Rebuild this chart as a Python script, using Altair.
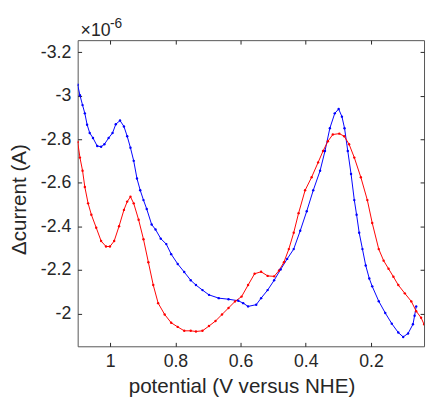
import altair as alt
import pandas as pd

# ---- data (current in units of 1e-6 A) ----
blue_x = [1.100, 1.093, 1.085, 1.078, 1.071, 1.063, 1.053, 1.040, 1.028, 1.018,
          1.005, 0.993, 0.983, 0.970, 0.958, 0.948, 0.938, 0.928, 0.918, 0.908,
          0.898, 0.888, 0.873, 0.861, 0.845, 0.828, 0.813, 0.793, 0.773, 0.753,
          0.737, 0.717, 0.697, 0.667, 0.637, 0.607, 0.592, 0.577, 0.552, 0.537,
          0.517, 0.497, 0.477, 0.457, 0.437, 0.417, 0.397, 0.377, 0.356, 0.341,
          0.326, 0.311, 0.299, 0.289, 0.281, 0.271, 0.261, 0.251, 0.244, 0.236,
          0.226, 0.216, 0.205, 0.196, 0.176, 0.156, 0.136, 0.116, 0.101, 0.086,
          0.071, 0.066, 0.061]
blue_y = [-3.050, -3.002, -2.957, -2.919, -2.867, -2.829, -2.806, -2.769, -2.766, -2.777,
          -2.806, -2.829, -2.869, -2.886, -2.859, -2.814, -2.761, -2.701, -2.620, -2.566,
          -2.521, -2.480, -2.409, -2.386, -2.344, -2.319, -2.273, -2.228, -2.191, -2.153,
          -2.131, -2.108, -2.086, -2.071, -2.066, -2.059, -2.048, -2.033, -2.041, -2.071,
          -2.108, -2.153, -2.203, -2.251, -2.296, -2.380, -2.470, -2.566, -2.656, -2.746,
          -2.851, -2.919, -2.939, -2.904, -2.851, -2.746, -2.641, -2.521, -2.454, -2.371,
          -2.296, -2.221, -2.161, -2.125, -2.057, -2.003, -1.954, -1.913, -1.893, -1.909,
          -1.951, -1.990, -2.033]

red_x = [1.100, 1.093, 1.085, 1.078, 1.068, 1.058, 1.043, 1.028, 1.013, 1.001,
         0.988, 0.973, 0.958, 0.948, 0.938, 0.928, 0.913, 0.898, 0.883, 0.868,
         0.853, 0.833, 0.813, 0.793, 0.773, 0.753, 0.737, 0.717, 0.697, 0.677,
         0.657, 0.637, 0.617, 0.597, 0.577, 0.557, 0.537, 0.517, 0.497, 0.482,
         0.467, 0.452, 0.437, 0.422, 0.402, 0.382, 0.362, 0.347, 0.332, 0.317,
         0.297, 0.282, 0.267, 0.251, 0.231, 0.211, 0.196, 0.176, 0.161, 0.146,
         0.131, 0.116, 0.096, 0.076, 0.061, 0.046, 0.037]
red_y = [-2.788, -2.716, -2.656, -2.581, -2.506, -2.454, -2.394, -2.333, -2.308, -2.308,
         -2.333, -2.401, -2.476, -2.514, -2.536, -2.506, -2.431, -2.341, -2.236, -2.131,
         -2.048, -1.996, -1.958, -1.939, -1.921, -1.921, -1.918, -1.921, -1.943, -1.966,
         -1.996, -2.026, -2.056, -2.078, -2.131, -2.183, -2.192, -2.173, -2.171, -2.198,
         -2.236, -2.296, -2.371, -2.461, -2.566, -2.626, -2.694, -2.746, -2.791, -2.822,
         -2.826, -2.814, -2.777, -2.716, -2.626, -2.521, -2.416, -2.296, -2.243, -2.206,
         -2.169, -2.131, -2.093, -2.056, -2.011, -1.981, -1.951]

series_names = ["blue", "red"]
series_colors = ["#0000ff", "#ff0000"]
x_ticks = [1, 0.8, 0.6, 0.4, 0.2]
y_ticks = [-3.2, -3, -2.8, -2.6, -2.4, -2.2, -2]
x_domain = [0.037, 1.1]
y_domain = [-3.255, -1.85]
x_title = "potential (V versus NHE)"
y_title = "\u0394current (A)"
exp_base = "\u00d710"
exp_power = "-6"

rows = []
for name, xs, ys in [("blue", blue_x, blue_y), ("red", red_x, red_y)]:
    for i, (xv, yv) in enumerate(zip(xs, ys)):
        rows.append({"series": name, "i": i, "v": xv, "c": yv})
df = pd.DataFrame(rows)

FONT = "Liberation Sans"
INK = "#262626"

xscale = alt.Scale(domain=x_domain, reverse=True, nice=False, zero=False)
yscale = alt.Scale(domain=y_domain, reverse=True, nice=False, zero=False)

common = dict(offset=-4, domain=False, tickSize=4, tickColor=INK, tickWidth=1,
              grid=False, labelFont=FONT, labelFontSize=18, labelColor=INK,
              labelPadding=7, titleFont=FONT, titleFontSize=21, titleColor=INK,
              titleFontWeight="normal")

x_axis = alt.Axis(orient="bottom", values=x_ticks, labelExpr="'' + datum.value",
                  title=x_title, titleX=167, titleY=51, titleAlign="center",
                  titleBaseline="alphabetic", **common)
y_axis = alt.Axis(orient="left", values=y_ticks, labelExpr="'' + datum.value",
                  title=y_title, titleX=-63, titleY=162, titleAlign="center",
                  titleBaseline="middle", titleAngle=270, **common)

lines = alt.Chart(df).mark_line(
    strokeWidth=1, clip=True,
    point=alt.OverlayMarkDef(size=6, filled=True, clip=True, opacity=1),
).encode(
    x=alt.X("v:Q", scale=xscale, axis=x_axis),
    y=alt.Y("c:Q", scale=yscale, axis=y_axis),
    color=alt.Color("series:N", scale=alt.Scale(domain=series_names, range=series_colors), legend=None),
    order="i:Q",
)

mirror = alt.Chart(df).mark_point(opacity=0).encode(
    x=alt.X("v:Q", scale=xscale,
            axis=alt.Axis(orient="top", values=x_ticks, labels=False, title=None,
                          offset=-4, domain=False, tickSize=4, tickColor=INK, grid=False)),
    y=alt.Y("c:Q", scale=yscale,
            axis=alt.Axis(orient="right", values=y_ticks, labels=False, title=None,
                          offset=-4, domain=False, tickSize=4, tickColor=INK, grid=False)),
)

t1 = alt.Chart(pd.DataFrame({"t": [exp_base]})).mark_text(
    align="left", baseline="alphabetic", font=FONT, fontSize=18, color=INK
).encode(text="t:N", x=alt.value(3), y=alt.value(-4))

t2 = alt.Chart(pd.DataFrame({"t": [exp_power]})).mark_text(
    align="left", baseline="alphabetic", font=FONT, fontSize=14, color=INK
).encode(text="t:N", x=alt.value(33), y=alt.value(-12))

chart = alt.layer(lines, mirror, t1, t2).resolve_axis(
    x="independent", y="independent"
).properties(
    width=353, height=312, autosize="none",
    padding={"left": 71, "top": 29, "right": 2, "bottom": 53},
).configure_view(stroke="#555555", strokeWidth=1)

chart.save("out.html", embed_options={"renderer": "svg", "actions": False})
